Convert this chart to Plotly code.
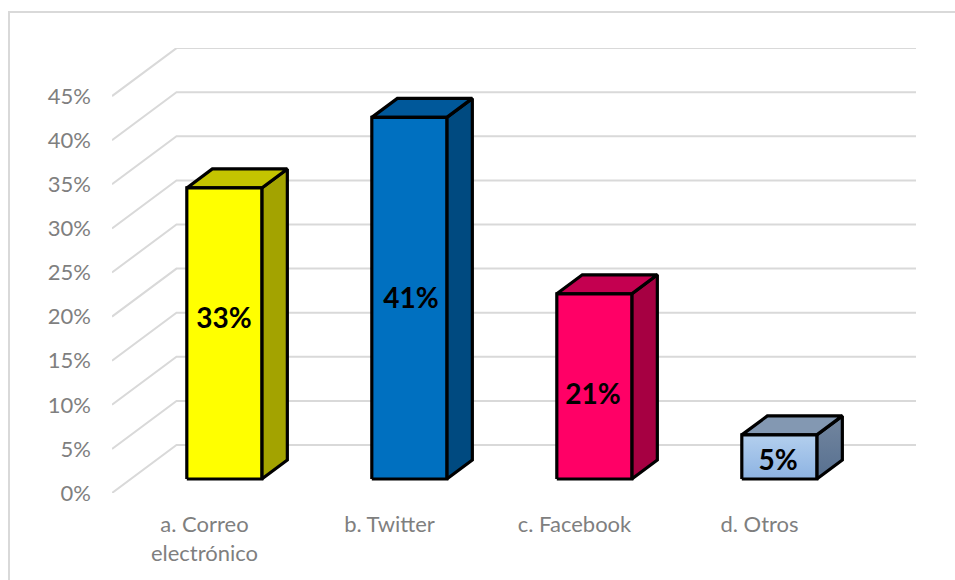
import plotly.graph_objects as go

categories = ["a. Correo<br>electrónico", "b. Twitter", "c. Facebook", "d. Otros"]
values = [33, 41, 21, 5]
value_labels = ["33%", "41%", "21%", "5%"]
grid_values = [0, 5, 10, 15, 20, 25, 30, 35, 40, 45]
grid_labels = ["0%", "5%", "10%", "15%", "20%", "25%", "30%", "35%", "40%", "45%"]
label_x_offset = [0.605, 0.616, 0.600, 0.600]
label_heights = [19.45, 21.75, 10.85, 3.35]

front_colors = ["#ffff00", "#0070c0", "#ff0066", None]
side_colors = ["#a3a300", "#004a80", "#a60042", None]
top_colors = ["#c4c400", "#00589a", "#c40050", "#8398b2"]

# Oblique projection of the depth axis, in data units
PX_W, PX_H = 185.0, 8.82
DEPTH_X, DEPTH_Y = 64.5 / PX_W, 48.0 / PX_H
BAR_D0, BAR_D1 = 14.0 / 48.0, 33.0 / 48.0
BAR_W = 75.0 / PX_W
BAR_CENTRE = 0.5 + 1.0 / PX_W
X_END = 804.0 / PX_W
Y_END = 445.0 / PX_H


def proj(x, v, d):
    return x + d * DEPTH_X, v + d * DEPTH_Y


fig = go.Figure()

for g in grid_values:
    p0 = proj(0, g, 0)
    p1 = proj(0, g, 1)
    fig.add_trace(go.Scatter(
        x=[p0[0], p1[0], X_END], y=[p0[1], p1[1], p1[1]], mode="lines",
        line=dict(color="#d9d9d9", width=2), hoverinfo="skip", showlegend=False,
        cliponaxis=False))


def face(points, color=None, gradient=None):
    xs = [p[0] for p in points] + [points[0][0]]
    ys = [p[1] for p in points] + [points[0][1]]
    kw = dict(fillcolor=color) if color else dict(fillgradient=gradient)
    fig.add_trace(go.Scatter(
        x=xs, y=ys, mode="lines", fill="toself",
        line=dict(color="#000000", width=3.2), hoverinfo="skip", showlegend=False,
        cliponaxis=False, **kw))


for i, v in enumerate(values):
    x0 = i + BAR_CENTRE - BAR_W / 2
    x1 = x0 + BAR_W
    side_grad = dict(type="vertical", colorscale=[[0, "#577090"], [1, "#73869f"]])
    front_grad = dict(type="vertical", colorscale=[[0, "#8db3e2"], [1, "#b3cfee"]])
    face([proj(x1, 0, BAR_D0), proj(x1, 0, BAR_D1), proj(x1, v, BAR_D1), proj(x1, v, BAR_D0)],
         side_colors[i], None if side_colors[i] else side_grad)
    face([proj(x0, v, BAR_D0), proj(x1, v, BAR_D0), proj(x1, v, BAR_D1), proj(x0, v, BAR_D1)],
         top_colors[i])
    face([proj(x0, 0, BAR_D0), proj(x1, 0, BAR_D0), proj(x1, v, BAR_D0), proj(x0, v, BAR_D0)],
         front_colors[i], None if front_colors[i] else front_grad)

fig.add_trace(go.Scatter(
    x=[i + o for i, o in enumerate(label_x_offset)], y=label_heights,
    mode="text", text=value_labels, textposition="middle center",
    textfont=dict(family="Lato", size=28, color="#000000", weight="bold"),
    hoverinfo="skip", showlegend=False, cliponaxis=False))

tick_font = dict(family="Lato", size=22, color="#7f7f7f")
fig.update_layout(
    width=955, height=580, paper_bgcolor="#ffffff", plot_bgcolor="rgba(0,0,0,0)",
    margin=dict(l=112, r=39, t=48, b=87, pad=0),
    showlegend=False,
    xaxis=dict(range=[0, X_END], tickvals=[i + 0.5 for i in range(len(categories))],
               ticktext=categories, tickfont=tick_font, showgrid=False, zeroline=False,
               showline=False, ticks="", ticklabelstandoff=16, fixedrange=True),
    yaxis=dict(range=[0, Y_END], tickvals=grid_values, ticktext=grid_labels,
               tickfont=tick_font, showgrid=False, zeroline=False, showline=False,
               ticks="", ticklabelstandoff=20, fixedrange=True),
    shapes=[dict(type="rect", xref="paper", yref="paper",
                 x0=(9 - 112) / 804, x1=(975 - 112) / 804,
                 y0=(493 - 600) / 445, y1=(493 - 12) / 445,
                 line=dict(color="#d9d9d9", width=2), fillcolor="rgba(0,0,0,0)", layer="below")],
)

fig.write_html("out.html", config={"displayModeBar": False},
               post_script="document.body.style.margin='0';")
